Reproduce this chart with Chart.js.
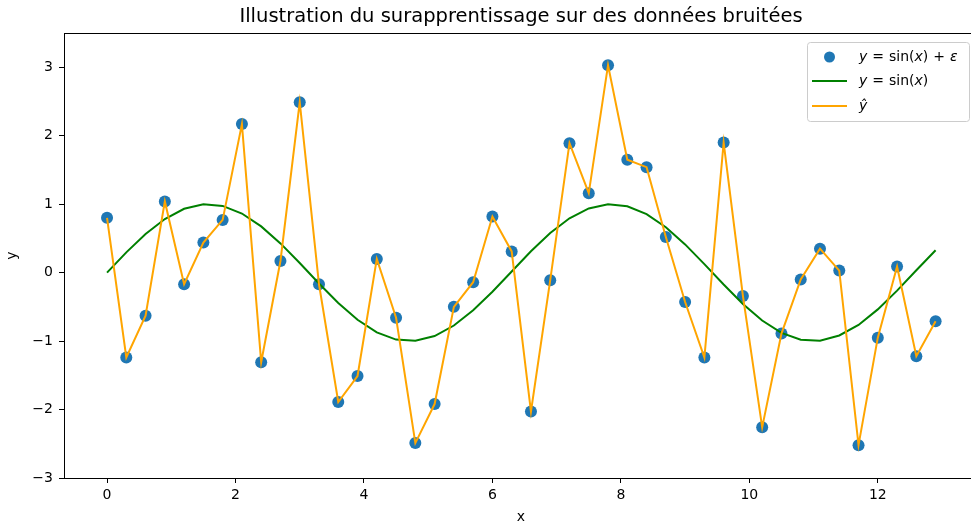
<!DOCTYPE html>
<html>
<head>
<meta charset="utf-8">
<script src="https://cdn.jsdelivr.net/npm/chart.js@4.4.0/dist/chart.umd.min.js"></script>
<style>
  html, body { margin: 0; padding: 0; background: #fff; }
  #wrap { width: 971px; height: 524px; overflow: hidden; position: relative; }
</style>
</head>
<body>
<div id="wrap"><canvas id="chart" width="985" height="524"></canvas></div>
<script>
// x positions of the samples
const xValues = [0, 0.3, 0.6, 0.9, 1.2, 1.5, 1.8, 2.1, 2.4, 2.7, 3.0, 3.3, 3.6, 3.9, 4.2,
  4.5, 4.8, 5.1, 5.4, 5.7, 6.0, 6.3, 6.6, 6.9, 7.2, 7.5, 7.8, 8.1, 8.4, 8.7, 9.0, 9.3,
  9.6, 9.9, 10.2, 10.5, 10.8, 11.1, 11.4, 11.7, 12.0, 12.3, 12.6, 12.9];

const noisyY = [0.80, -1.24, -0.63, 1.04, -0.17, 0.44, 0.77, 2.17, -1.31, 0.17, 2.49,
  -0.17, -1.89, -1.51, 0.20, -0.66, -2.49, -1.92, -0.50, -0.14, 0.82, 0.31, -2.03, -0.11,
  1.89, 1.16, 3.03, 1.65, 1.54, 0.52, -0.43, -1.24, 1.90, -0.34, -2.26, -0.89, -0.10,
  0.35, 0.03, -2.52, -0.95, 0.09, -1.22, -0.71];

// true curve y = sin(x)
const sinY = [0.000, 0.296, 0.565, 0.783, 0.932, 0.997, 0.974, 0.863, 0.675, 0.427, 0.141,
  -0.158, -0.443, -0.688, -0.872, -0.978, -0.996, -0.926, -0.773, -0.551, -0.279, 0.017,
  0.312, 0.578, 0.794, 0.938, 0.999, 0.970, 0.855, 0.663, 0.412, 0.124, -0.174, -0.458,
  -0.700, -0.880, -0.981, -0.994, -0.918, -0.764, -0.537, -0.263, 0.034, 0.327];

// overfitted prediction goes through every noisy point
const predY = [0.80, -1.24, -0.63, 1.04, -0.17, 0.44, 0.77, 2.17, -1.31, 0.17, 2.49,
  -0.17, -1.89, -1.51, 0.20, -0.66, -2.49, -1.92, -0.50, -0.14, 0.82, 0.31, -2.03, -0.11,
  1.89, 1.16, 3.03, 1.65, 1.54, 0.52, -0.43, -1.24, 1.90, -0.34, -2.26, -0.89, -0.10,
  0.35, 0.03, -2.52, -0.95, 0.09, -1.22, -0.71];

const xTicks = [0, 2, 4, 6, 8, 10, 12];
const yTicks = [-3, -2, -1, 0, 1, 2, 3];
const seriesLabels = ['y = sin(x) + ε', 'y = sin(x)', 'ŷ'];
const chartTitle = 'Illustration du surapprentissage sur des données bruitées';

const FONT = 'DejaVu Sans';
const toPoints = ys => xValues.map((x, i) => ({ x: x, y: ys[i] }));
const minusSign = v => String(v).replace('-', '\u2212');

// matplotlib-like spines on all four sides
const framePlugin = {
  id: 'frame',
  afterDraw(chart) {
    const { ctx, chartArea: a } = chart;
    ctx.save();
    ctx.strokeStyle = '#000';
    ctx.lineWidth = 1;
    ctx.strokeRect(Math.round(a.left) + 0.5, Math.round(a.top) + 0.5,
      Math.round(a.right - a.left), Math.round(a.bottom - a.top));
    ctx.restore();
  }
};

const titlePlugin = {
  id: 'plotTitle',
  afterDraw(chart) {
    const { ctx, chartArea: a } = chart;
    ctx.save();
    ctx.fillStyle = '#000';
    ctx.font = '19.5px "' + FONT + '"';
    ctx.textAlign = 'center';
    ctx.textBaseline = 'middle';
    ctx.fillText(chartTitle, (a.left + a.right) / 2, 17);
    ctx.restore();
  }
};

// draws a label with math-style italics for variables (sin stays upright)
function drawMathLabel(ctx, text, x, y) {
  const parts = text.split(/(sin)/);
  let cx = x;
  parts.forEach(p => {
    if (p === 'sin') {
      ctx.font = '14px "' + FONT + '"';
      ctx.fillText(p, cx, y);
      cx += ctx.measureText(p).width;
      return;
    }
    for (const ch of p) {
      if (ch === ' ') { cx += 5; continue; }
      const italic = /[a-zA-Zεŷ]/.test(ch);
      ctx.font = (italic ? 'italic ' : '') + '14px "' + FONT + '"';
      ctx.fillText(ch, cx, y);
      cx += ctx.measureText(ch).width;
    }
  });
}

const legendPlugin = {
  id: 'mplLegend',
  afterDraw(chart) {
    const { ctx, chartArea: a } = chart;
    const w = 162, h = 79;
    const bx = a.right - 9 - w, by = a.top + 9;
    ctx.save();
    ctx.beginPath();
    ctx.roundRect(bx + 0.5, by + 0.5, w, h, 3);
    ctx.fillStyle = 'rgba(255,255,255,0.8)';
    ctx.fill();
    ctx.strokeStyle = '#cccccc';
    ctx.lineWidth = 1;
    ctx.stroke();

    const rows = [by + 15, by + 39, by + 64];
    chart.data.datasets.forEach((ds, i) => {
      const ry = rows[i];
      if (i === 0) {
        ctx.beginPath();
        ctx.arc(bx + 22.5, ry, 5.5, 0, Math.PI * 2);
        ctx.fillStyle = ds.backgroundColor;
        ctx.fill();
      } else {
        ctx.beginPath();
        ctx.moveTo(bx + 5, ry);
        ctx.lineTo(bx + 40, ry);
        ctx.strokeStyle = ds.borderColor;
        ctx.lineWidth = 2;
        ctx.stroke();
      }
      ctx.fillStyle = '#000';
      ctx.textBaseline = 'middle';
      ctx.textAlign = 'left';
      drawMathLabel(ctx, ds.label, bx + 52, ry);
    });
    ctx.restore();
  }
};

new Chart(document.getElementById('chart').getContext('2d'), {
  type: 'scatter',
  data: {
    datasets: [
      {
        label: seriesLabels[0],
        data: toPoints(noisyY),
        showLine: false,
        pointRadius: 6,
        pointHoverRadius: 6,
        backgroundColor: '#1f77b4',
        borderWidth: 0,
        order: 3
      },
      {
        label: seriesLabels[1],
        data: toPoints(sinY),
        showLine: true,
        pointRadius: 0,
        borderColor: '#008000',
        backgroundColor: '#008000',
        borderWidth: 2,
        tension: 0,
        order: 2
      },
      {
        label: seriesLabels[2],
        data: toPoints(predY),
        showLine: true,
        pointRadius: 0,
        borderColor: '#ffa500',
        backgroundColor: '#ffa500',
        borderWidth: 2,
        tension: 0,
        order: 1
      }
    ]
  },
  options: {
    responsive: false,
    animation: false,
    devicePixelRatio: 1,
    layout: { padding: { top: 33, right: 7, bottom: 0, left: 0 } },
    plugins: {
      legend: { display: false },
      title: { display: false },
      tooltip: { enabled: false }
    },
    scales: {
      x: {
        type: 'linear',
        min: -0.67,
        max: 13.56,
        afterBuildTicks: s => { s.ticks = xTicks.map(v => ({ value: v })); },
        afterFit: s => { s.height = 46; },
        grid: { drawOnChartArea: false, tickLength: 5, color: '#000', tickWidth: 1 },
        border: { display: true, color: '#000', width: 1 },
        ticks: { color: '#000', font: { family: FONT, size: 14 }, padding: 4, maxRotation: 0 },
        title: { display: true, text: 'x', color: '#000', font: { family: FONT, size: 14 },
          padding: { top: 0, bottom: -2 } }
      },
      y: {
        type: 'linear',
        min: -3,
        max: 3.5,
        afterBuildTicks: s => { s.ticks = yTicks.map(v => ({ value: v })); },
        afterFit: s => { s.width = 64; },
        grid: { drawOnChartArea: false, tickLength: 5, color: '#000', tickWidth: 1 },
        border: { display: true, color: '#000', width: 1 },
        ticks: { color: '#000', font: { family: FONT, size: 14 }, padding: 6,
          callback: v => minusSign(v) },
        title: { display: true, text: 'y', color: '#000', font: { family: FONT, size: 14 },
          padding: { top: 4, bottom: 0 } }
      }
    }
  },
  plugins: [framePlugin, titlePlugin, legendPlugin]
});
</script>
</body>
</html>
